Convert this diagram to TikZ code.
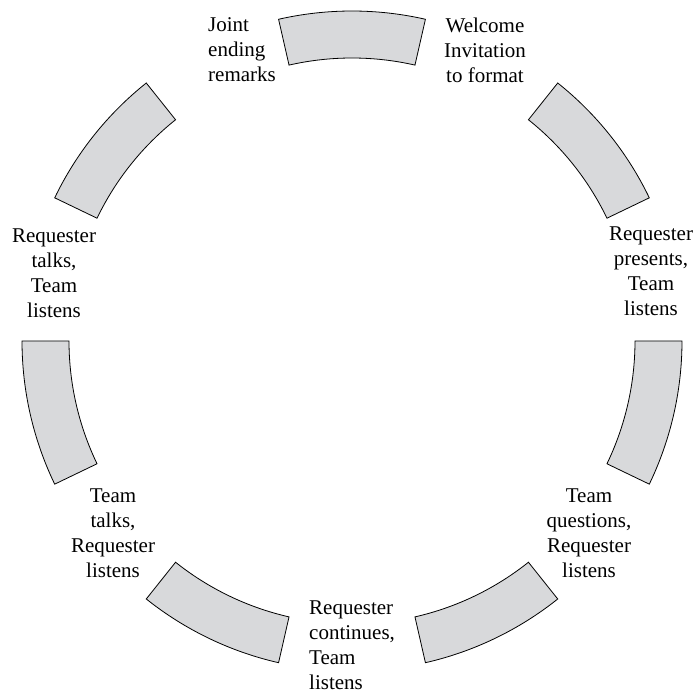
\documentclass[tikz,border=0pt]{standalone}
\usepackage{fontspec}
\setmainfont{Liberation Serif}
\usetikzlibrary{calc}
\definecolor{segfill}{RGB}{216,217,219}
\tikzset{
    seg/.style={draw=black, line width=0.8pt, fill=segfill, line join=miter},
    lbl/.style={inner sep=0pt, align=center, font=\fontsize{21pt}{25pt}\selectfont}
}
\begin{document}
\begin{tikzpicture}[x=1pt, y=1pt]
        \def\rin{283}   % rayon interieur
        \def\rout{330}  % rayon exterieur
        \def\pas{51.4286} % 360/7
        \def\demi{12.857} % demi-largeur d'un secteur

        \useasboundingbox (0,0) rectangle (697,693);
        \coordinate (c) at (352,352);

        % Les sept secteurs gris
        \foreach \k in {0,...,6} {
            \pgfmathsetmacro{\a}{90-\demi-\k*\pas}
            \pgfmathsetmacro{\b}{90+\demi-\k*\pas}
            \draw[seg] ($(c)+(\a:\rout)$) arc[start angle=\a, end angle=\b, radius=\rout]
                -- ($(c)+(\b:\rin)$) arc[start angle=\b, end angle=\a, radius=\rin] -- cycle;
        }

        % Etiquettes entre les secteurs
        \node[lbl, anchor=north] (welcome) at (485,675) {Welcome\\Invitation\\to format};
        \node[lbl, anchor=north] (presents) at (651,466) {Requester\\presents,\\Team\\listens};
        \node[lbl, anchor=north] (questions) at (589,204) {Team\\questions,\\Requester\\listens};
        \node[lbl, anchor=north west, align=left] (continues) at (309,92) {Requester\\continues,\\Team\\listens};
        \node[lbl, anchor=north] (teamtalks) at (113,204) {Team\\talks,\\Requester\\listens};
        \node[lbl, anchor=north] (reqtalks) at (54,464) {Requester\\talks,\\Team\\listens};
        \node[lbl, anchor=north west, align=left] (ending) at (208,676) {Joint\\ending\\remarks};
\end{tikzpicture}
\end{document}
